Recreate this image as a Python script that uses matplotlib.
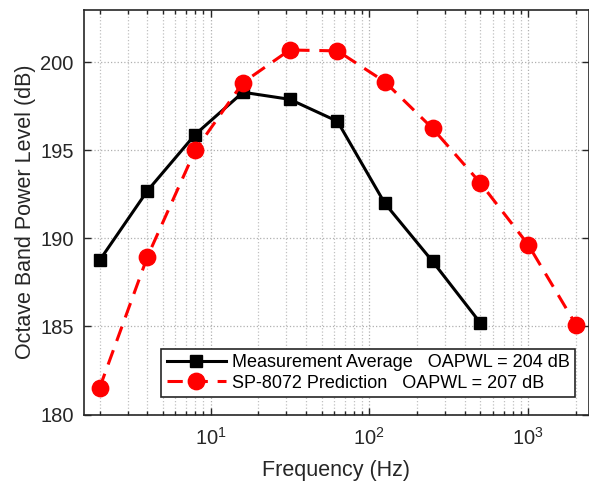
import matplotlib
matplotlib.use("Agg")
import matplotlib.pyplot as plt
from matplotlib.ticker import LogLocator, NullFormatter, FixedLocator

plt.rcParams['font.family'] = ['Liberation Sans', 'DejaVu Sans']

freq_meas = [2, 4, 8, 16, 31.5, 63, 125, 250, 500]
meas_avg = [188.75, 192.7, 195.9, 198.3, 197.9, 196.65, 192.0, 188.7, 185.2]
freq_pred = [2, 4, 8, 16, 31.5, 63, 125, 250, 500, 1000, 2000]
pred = [181.5, 188.95, 195.0, 198.85, 200.7, 200.65, 198.9, 196.25, 193.15, 189.65, 185.1]
label_meas = "Measurement Average   OAPWL = 204 dB"
label_pred = "SP-8072 Prediction   OAPWL = 207 dB"
yticks = [180, 185, 190, 195, 200]

fig = plt.figure(figsize=(5.89, 4.83), dpi=100)
ax = fig.add_axes([83.5/589, 1 - 414.5/483, (588.5 - 83.5)/589, (414.5 - 9.5)/483])

ax.plot(freq_meas, meas_avg, color='black', lw=2.2, marker='s', ms=9.2,
        label=label_meas, zorder=3)
ax.plot(freq_pred, pred, color='red', lw=2.2, ls=(0, (5, 3.2)), marker='o', ms=11.8,
        label=label_pred, zorder=3)

ax.set_xscale('log')
ax.set_xlim(1.585, 2400)
ax.set_ylim(180, 203)
ax.yaxis.set_major_locator(FixedLocator(yticks))
ax.xaxis.set_major_locator(LogLocator(base=10, numticks=10))
ax.xaxis.set_minor_locator(LogLocator(base=10, subs=range(2, 10), numticks=20))
ax.xaxis.set_minor_formatter(NullFormatter())

ax.grid(True, which='major', ls=':', color='#b0b0b0', lw=0.9)
ax.grid(True, which='minor', axis='x', ls=':', color='#c0c0c0', lw=0.9)
ax.set_axisbelow(True)

ax.tick_params(which='both', direction='in', top=True, right=True, labelsize=14.5,
               width=1.0, colors='#262626')
ax.tick_params(axis='y', which='major', length=5, pad=7)
ax.tick_params(axis='x', which='major', length=5, pad=9)
ax.tick_params(which='minor', length=3)
for s in ax.spines.values():
    s.set_linewidth(1.2)
    s.set_color('#262626')

ax.set_xlabel('Frequency (Hz)', fontsize=15.5, color='#262626', labelpad=8)
ax.set_ylabel('Octave Band Power Level (dB)', fontsize=15.5, color='#262626', labelpad=3)

leg = ax.legend(loc='lower right', bbox_to_anchor=(0.973, 0.043), fontsize=13,
                fancybox=False, edgecolor='#262626', framealpha=1,
                handlelength=3.3, borderpad=0.3, labelspacing=0.2,
                handletextpad=0.3, borderaxespad=0)
leg.get_frame().set_linewidth(1.2)

fig.savefig('out.png', dpi=100)
